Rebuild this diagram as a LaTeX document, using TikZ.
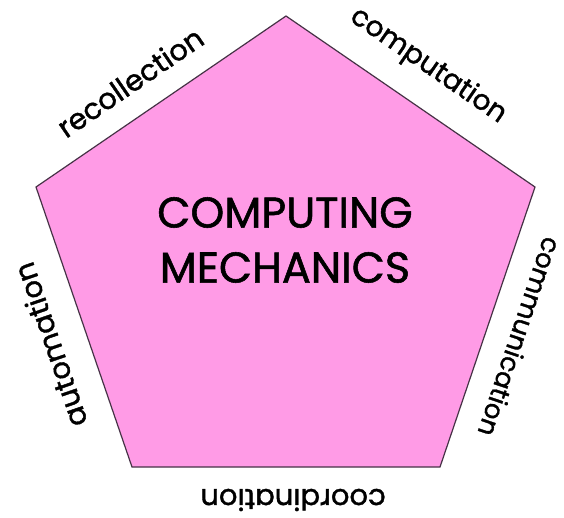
\documentclass[tikz,border=0pt]{standalone}
\usepackage{fontspec}
\setmainfont{Poppins}[FakeBold=1.3]
\definecolor{pent}{RGB}{255,155,230}
\definecolor{edge}{RGB}{70,50,70}
\begin{document}
\begin{tikzpicture}[x=1pt,y=-1pt,
  lab/.style={font=\fontsize{29}{32}\selectfont, inner sep=0pt, anchor=center},
  title/.style={font=\fontsize{43}{55}\selectfont, align=center, inner sep=0pt}]
\useasboundingbox (0,0) rectangle (564,517);
\coordinate (T) at (286,16);
\coordinate (L) at (36,187);
\coordinate (BL) at (132,467);
\coordinate (BR) at (440,467);
\coordinate (R) at (535,187);
\draw[edge, line width=1.2pt, fill=pent, line join=miter] (T) -- (L) -- (BL) -- (BR) -- (R) -- cycle;
\node[title] (ttl) at (285,240) {COMPUTING\\MECHANICS};
\node[lab, rotate=34.4] (rec) at (130,82) {recollection};
\node[lab, rotate=-34.5, font=\fontsize{28}{32}\selectfont] (cmp) at (428,66) {computation};
\node[lab, rotate=-108.7, font=\fontsize{26}{30}\selectfont] (com) at (520,337) {communication};
\node[lab, rotate=180] (crd) at (293,500) {coordination};
\node[lab, rotate=108.9] (aut) at (50,345) {automation};
\end{tikzpicture}
\end{document}
